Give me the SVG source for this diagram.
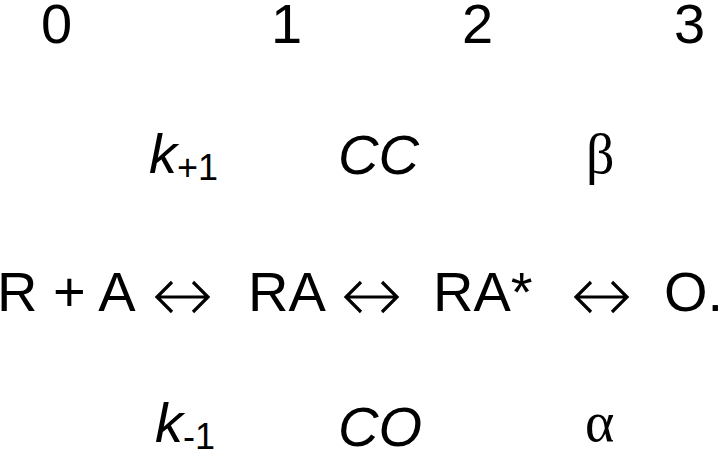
<svg xmlns="http://www.w3.org/2000/svg" width="720" height="454" viewBox="0 0 720 454">
<style>
text{font-family:"Liberation Sans",Arial,sans-serif;font-size:56px;fill:#000}
.i{font-style:italic}
.sub{font-size:36px;font-style:normal}
.g{font-family:"Liberation Serif","Times New Roman",serif}
.arr{fill:none;stroke:#000;stroke-width:3.2;stroke-linejoin:miter;stroke-linecap:butt}
</style>
<rect width="720" height="454" fill="#fff"/>
<g id="labels-top">
<text x="41" y="43">0</text>
<text x="271" y="43">1</text>
<text x="462" y="43">2</text>
<text x="674" y="43">3</text>
</g>
<g id="rates-forward">
<text x="149" y="173" class="i">k<tspan class="sub" dy="7">+1</tspan></text>
<text x="338" y="174" class="i" font-size="50">CC</text>
<text x="586" y="173" class="g" font-size="60">β</text>
</g>
<g id="node-RA0"><text x="-3" y="311">R + A</text></g>
<g id="node-RA"><text x="248" y="311">RA</text></g>
<g id="node-RAstar"><text x="433" y="311">RA*</text></g>
<g id="node-O"><text x="664" y="311">O.</text></g>
<g id="connectors">
<path class="arr" d="M157,297H208M172,282L157,297L172,312M193,282L208,297L193,312"/>
<path class="arr" d="M346,297H397M361,282L346,297L361,312M382,282L397,297L382,312"/>
<path class="arr" d="M576,297H627M591,282L576,297L591,312M612,282L627,297L612,312"/>
</g>
<g id="rates-backward">
<text x="155" y="442" class="i">k<tspan class="sub" dy="7">-1</tspan></text>
<text x="338" y="446" class="i" font-size="50">CO</text>
<text x="585" y="441" class="g" font-size="60">α</text>
</g>
</svg>
